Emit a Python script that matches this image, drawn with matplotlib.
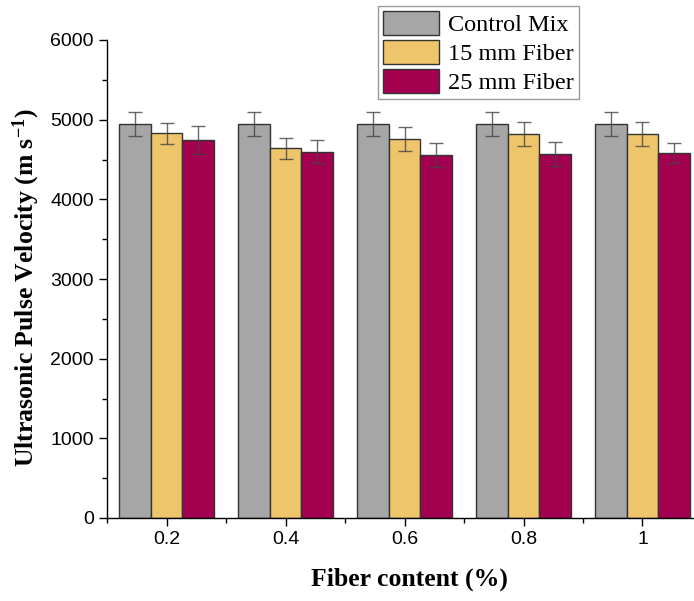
import matplotlib
matplotlib.use("Agg")
import matplotlib.pyplot as plt
from matplotlib.ticker import MultipleLocator
import numpy as np

plt.rcParams["mathtext.fontset"] = "custom"
plt.rcParams["mathtext.rm"] = "Liberation Serif"
plt.rcParams["mathtext.bf"] = "Liberation Serif:bold"
plt.rcParams["mathtext.it"] = "Liberation Serif:italic"

fiber_content = [0.2, 0.4, 0.6, 0.8, 1.0]
tick_labels = ["0.2", "0.4", "0.6", "0.8", "1"]
series_names = ["Control Mix", "15 mm Fiber", "25 mm Fiber"]
control_mix = [4950, 4950, 4950, 4950, 4950]
control_err = [150, 150, 150, 150, 150]
fiber15 = [4830, 4640, 4760, 4820, 4820]
fiber15_err = [130, 130, 150, 150, 150]
fiber25 = [4750, 4600, 4560, 4570, 4580]
fiber25_err = [175, 150, 150, 150, 130]

colors = ["#A6A6A6", "#EFC56C", "#A40050"]

fig = plt.figure(figsize=(6.94, 6.01), dpi=100)
ax = fig.add_axes([107/694, 83/601, 1 - 107/694, (518-40)/601])

x = np.array(fiber_content)
w = 0.053
vals = [control_mix, fiber15, fiber25]
errs = [control_err, fiber15_err, fiber25_err]
for i, (v, e, c, n) in enumerate(zip(vals, errs, colors, series_names)):
    ax.bar(x + (i - 1) * w, v, width=w, color=c, edgecolor="#333333", linewidth=1.0,
           label=n, zorder=2)
    ax.errorbar(x + (i - 1) * w, v, yerr=e, fmt="none", ecolor="#444444", elinewidth=1.0,
                capsize=5, capthick=1.0, alpha=0.8, zorder=3)

ax.set_xlim(0.1, 0.1 + (694 - 107) / 595)
ax.set_ylim(0, 6000)
ax.set_xticks(fiber_content)
ax.set_xticklabels(tick_labels)
ax.xaxis.set_minor_locator(MultipleLocator(0.1))
ax.yaxis.set_major_locator(MultipleLocator(1000))
ax.yaxis.set_minor_locator(MultipleLocator(500))
for s in ["top", "right"]:
    ax.spines[s].set_visible(False)
for s in ["left", "bottom"]:
    ax.spines[s].set_linewidth(1.0)
ax.tick_params(axis="both", which="major", direction="out", length=6, width=1.0,
               labelsize=14)
ax.tick_params(axis="both", which="minor", direction="out", length=3.5, width=1.0)
for lab in ax.get_xticklabels() + ax.get_yticklabels():
    lab.set_fontfamily("Liberation Sans")

ax.set_xlabel("Fiber content (%)", fontsize=18.5, fontweight="bold",
              family="Liberation Serif")
ax.set_ylabel("Ultrasonic Pulse Velocity (m s$^{\\mathbf{-1}}$)", fontsize=18.5,
              fontweight="bold", family="Liberation Serif")
ax.xaxis.set_label_coords((409 - 107) / 587, -(579 - 518) / 478, transform=ax.transAxes)
ax.xaxis.label.set_va("center")
ax.yaxis.set_label_coords(-(107 - 26) / 587, (518 - 288) / 478, transform=ax.transAxes)
ax.yaxis.label.set_va("center")

leg = fig.legend(loc="upper left", bbox_to_anchor=(378/694, 1 - 6/601),
                 prop={"family": "Liberation Serif", "size": 17.5},
                 handlelength=2.3, handleheight=1.15, labelspacing=0.15,
                 handletextpad=0.4, borderpad=0.2, borderaxespad=0,
                 fancybox=False, framealpha=1, edgecolor="#999999")
leg.get_frame().set_linewidth(1.0)

fig.savefig("out.png", dpi=100)
